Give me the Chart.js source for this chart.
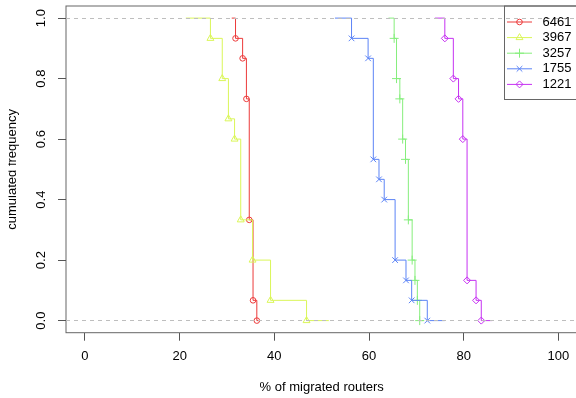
<!DOCTYPE html>
<html><head><meta charset="utf-8">
<script src="https://cdn.jsdelivr.net/npm/chart.js@4/dist/chart.umd.min.js"></script>
<style>html,body{margin:0;padding:0;background:#fff;overflow:hidden;width:576px;height:398px;}canvas{display:block;}</style>
</head><body>
<canvas id="c" width="578" height="398" style="width:578px;height:398px"></canvas>
<script>
// ---- data ----
const seriesLabels = ['6461', '3967', '3257', '1755', '1221'];
const x6461 = [31.0, 31.8, 33.3, 34.1, 34.7, 35.5, 36.3, 37.0];
const y6461 = [1, 0.933, 0.867, 0.733, 0.333, 0.067, 0, 0];
const x3967 = [21.3, 26.5, 29.0, 30.3, 31.6, 32.9, 35.4, 39.2, 46.8, 51.5];
const y3967 = [1, 0.933, 0.8, 0.667, 0.6, 0.333, 0.2, 0.067, 0, 0];
const x3257 = [64.1, 65.3, 65.8, 66.5, 67.1, 67.7, 68.3, 69.1, 69.7, 70.2, 70.7, 71.5];
const y3257 = [1, 0.933, 0.8, 0.733, 0.6, 0.533, 0.333, 0.2, 0.133, 0.067, 0, 0];
const x1755 = [52.8, 56.3, 59.8, 60.9, 62.1, 63.2, 65.5, 67.8, 69.0, 72.3, 76.0];
const y1755 = [1, 0.933, 0.867, 0.533, 0.467, 0.4, 0.2, 0.133, 0.067, 0, 0];
const x1221 = [73.9, 76.0, 77.8, 78.9, 79.8, 80.7, 82.6, 83.7, 86.0];
const y1221 = [1, 0.933, 0.8, 0.733, 0.6, 0.133, 0.067, 0, 0];
const xTicks = [0, 20, 40, 60, 80, 100];
const yTicks = [0, 0.2, 0.4, 0.6, 0.8, 1.0];
const yTickLabels = ['0.0', '0.2', '0.4', '0.6', '0.8', '1.0'];

// ---- styles ----
const colors = ['rgb(236,58,58)', 'rgb(218,246,88)', 'rgb(134,238,124)', 'rgb(92,132,246)', 'rgb(198,50,242)'];
const markers = ['circle', 'triangle', 'cross', 'crossRot', 'rectRot'];
const markerR = [2.8, 4, 4.5, 4, 3.5];
const FONT = "'Liberation Sans', Arial, Helvetica, sans-serif";

const xs = [x6461, x3967, x3257, x1755, x1221];
const ys = [y6461, y3967, y3257, y1755, y1221];

function buildDataset(i) {
  const xv = xs[i], yv = ys[i];
  const pts = xv.map((x, k) => ({x: x, y: yv[k]}));
  // first point (left extension) and last point (right extension) carry no symbol
  const radii = pts.map((p, k) => (k === 0 || k === pts.length - 1) ? 0 : markerR[i]);
  return {
    label: seriesLabels[i],
    data: pts,
    borderColor: colors[i],
    borderWidth: 1,
    stepped: true,
    fill: false,
    tension: 0,
    pointStyle: markers[i],
    pointRadius: radii,
    pointHoverRadius: radii,
    pointBorderColor: colors[i],
    pointBackgroundColor: 'rgba(0,0,0,0)',
    pointBorderWidth: 1,
    order: -i
  };
}

const decor = {
  id: 'decor',
  afterDatasetsDraw(chart) {
    const {ctx, chartArea: a} = chart;
    ctx.save();
    ctx.strokeStyle = '#666';
    ctx.lineWidth = 1;
    ctx.strokeRect(a.left, a.top, a.right - a.left, a.bottom - a.top);
    ctx.restore();
  },
  afterDraw(chart) {
    const ctx = chart.ctx;
    ctx.save();
    // left margin of the original figure is cropped
    ctx.fillStyle = '#fff';
    ctx.fillRect(0, 0, 8.5, chart.height);
    // legend (top-right, transparent background)
    const L = {left: 504.5, top: chart.chartArea.top, right: chart.chartArea.right, bottom: 99.5, row0: 22, rowH: 15.6, l0: 507, l1: 532, tx: 542.5};
    ctx.strokeStyle = '#666';
    ctx.lineWidth = 1;
    ctx.strokeRect(L.left, L.top, L.right - L.left, L.bottom - L.top);
    chart.data.datasets.forEach((ds, i) => {
      const y = L.row0 + i * L.rowH;
      ctx.strokeStyle = ds.borderColor;
      ctx.lineWidth = 1;
      ctx.beginPath();
      ctx.moveTo(L.l0, y);
      ctx.lineTo(L.l1, y);
      ctx.stroke();
      ctx.fillStyle = 'rgba(0,0,0,0)';
      Chart.helpers.drawPoint(ctx, {pointStyle: ds.pointStyle, radius: markerR[i], rotation: 0, borderWidth: 1}, (L.l0 + L.l1) / 2, y);
      ctx.fillStyle = '#000';
      ctx.font = '13px ' + FONT;
      ctx.textBaseline = 'middle';
      ctx.textAlign = 'left';
      ctx.fillText(ds.label, L.tx, y);
    });
    ctx.restore();
  }
};

Chart.defaults.font.family = FONT;
Chart.defaults.font.size = 13;
Chart.defaults.color = '#000';

new Chart(document.getElementById('c'), {
  type: 'line',
  data: {datasets: seriesLabels.map((_, i) => buildDataset(i))},
  options: {
    responsive: false,
    animation: false,
    devicePixelRatio: 1,
    events: [],
    layout: {padding: {top: 6, right: 0.6, left: 0, bottom: 0}},
    plugins: {legend: {display: false}, tooltip: {enabled: false}},
    scales: {
      x: {
        type: 'linear',
        min: -4, max: 104,
        afterBuildTicks: s => { s.ticks = xTicks.map(v => ({value: v})); },
        afterFit: s => { s.height = 65.3; s.paddingLeft = 0; s.paddingRight = 0; },
        ticks: {padding: 8, color: '#000', font: {size: 13}, maxRotation: 0, autoSkip: false},
        grid: {drawOnChartArea: false, drawTicks: true, tickLength: 8, tickColor: '#555', tickWidth: 1},
        border: {display: false},
        title: {display: true, text: '% of migrated routers', color: '#000', font: {size: 13}, padding: {top: 0, bottom: 3}}
      },
      y: {
        type: 'linear',
        min: -0.04, max: 1.04,
        afterBuildTicks: s => { s.ticks = yTicks.map(v => ({value: v})); },
        afterFit: s => { s.width = 66; s.paddingTop = 0; s.paddingBottom = 0; },
        ticks: {
          padding: 8, color: '#000', font: {size: 13}, autoSkip: false,
          minRotation: 90, maxRotation: 90, crossAlign: 'center',
          callback: (v, idx) => yTickLabels[idx]
        },
        grid: {
          z: 1,
          drawOnChartArea: true, drawTicks: true, tickLength: 8, tickColor: '#555', tickWidth: 1, lineWidth: 1,
          color: c => (c.tick && (Math.abs(c.tick.value) < 1e-9 || Math.abs(c.tick.value - 1) < 1e-9)) ? '#bebebe' : 'rgba(0,0,0,0)'
        },
        border: {display: false, dash: [4, 4]},
        title: {display: true, text: 'cumulated frequency', color: '#000', font: {size: 13}, padding: {top: 4.2, bottom: 0}}
      }
    }
  },
  plugins: [decor]
});
</script>
</body></html>
